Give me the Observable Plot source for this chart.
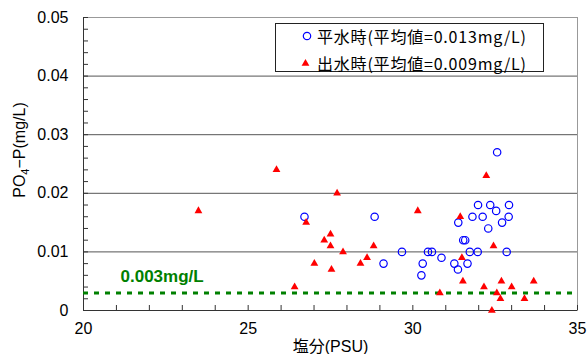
<!DOCTYPE html>
<html><head><meta charset="utf-8">
<script src="https://cdn.jsdelivr.net/npm/d3@7"></script>
<script src="https://cdn.jsdelivr.net/npm/@observablehq/plot@0.6"></script>
<style>
body{margin:0;background:#fff;}
#wrap{position:relative;width:587px;height:354px;overflow:hidden;font-family:"Liberation Sans",Arial,"Noto Sans CJK JP",sans-serif;}
#legend{position:absolute;left:275px;top:23px;width:267px;height:47px;border:1px solid #222;background:#fff;}
#legend .row{position:absolute;left:0;height:20px;width:100%;}
#legend svg{position:absolute;left:24px;top:3px;}
#legend span{position:absolute;left:41px;top:0;line-height:20px;font-size:16px;letter-spacing:0.8px;font-family:"Noto Sans CJK JP",sans-serif;white-space:nowrap;color:#000;}
</style></head>
<body><div id="wrap"></div>
<script>
// 平水時 (normal flow)
const normalSalinity = [26.71,28.84,29.11,29.67,30.26,30.30,30.46,30.58,30.87,31.26,31.37,31.38,31.53,31.59,31.66,31.73,31.81,31.97,31.98,32.12,32.29,32.35,32.53,32.56,32.71,32.85,32.91,32.92];
const normalPO4P     = [0.016,0.016,0.008,0.010,0.006,0.008,0.010,0.010,0.009,0.008,0.007,0.015,0.012,0.012,0.008,0.010,0.016,0.010,0.018,0.016,0.014,0.018,0.017,0.027,0.015,0.010,0.016,0.018];
// 出水時 (flood)
const floodSalinity = [23.49,25.86,26.41,26.76,27.01,27.31,27.50,27.50,27.53,27.70,27.88,28.41,28.61,28.81,30.15,30.82,31.44,31.49,31.52,32.16,32.23,32.40,32.45,32.55,32.66,32.69,33.00,33.39,33.67];
const floodPO4P     = [0.017,0.024,0.004,0.015,0.008,0.012,0.013,0.011,0.007,0.020,0.010,0.008,0.009,0.011,0.017,0.003,0.016,0.009,0.005,0.004,0.023,0.000,0.011,0.003,0.002,0.005,0.004,0.002,0.005];

const seriesNames = ["平水時(平均値=0.013mg/L)", "出水時(平均値=0.009mg/L)"];
const xTickLabels = [20,25,30,35];
const xMinorTicks = [20,21,22,23,24,25,26,27,28,29,30,31,32,33,34,35];
const yTickLabels = [0,0.01,0.02,0.03,0.04,0.05];
const yMinorTicks = [0,0.002,0.004,0.006,0.008,0.01,0.012,0.014,0.016,0.018,0.02,0.022,0.024,0.026,0.028,0.03,0.032,0.034,0.036,0.038,0.04,0.042,0.044,0.046,0.048,0.05];
const gridValues = [0.01,0.02,0.03,0.04];
const refValue = 0.003;
const refLabel = "0.003mg/L";
const xTitle = "塩分(PSU)";
const yTitleParts = ["PO", "4", "−P(mg/L)"];

const normal = normalSalinity.map((s,i)=>({s, p: normalPO4P[i]}));
const flood = floodSalinity.map((s,i)=>({s, p: floodPO4P[i]}));

const W=587, H=354, mL=83, mR=10, mT=17, mB=44;
const font = '"Liberation Sans",Arial,"Noto Sans CJK JP",sans-serif';

const plot = Plot.plot({
  width: W, height: H,
  marginLeft: mL, marginRight: mR, marginTop: mT, marginBottom: mB,
  style: {fontFamily: font, fontSize: "16px", color: "#000", background: "#fff", overflow: "visible"},
  x: {domain: [20, 35]},
  y: {domain: [0, 0.05]},
  marks: [
    Plot.ruleY(gridValues, {stroke: "#555", strokeWidth: 1}),
    Plot.frame({stroke: "#999"}),
    Plot.ruleX([20], {stroke: "#333"}),
    Plot.ruleY([0], {stroke: "#333"}),
    Plot.tickY(yMinorTicks, {y: d => d, stroke: "#333", insetRight: (W - mL - mR) - 5}),
    Plot.tickX(xMinorTicks, {x: d => d, stroke: "#333", insetTop: (H - mT - mB) - 5}),
    Plot.ruleY([refValue], {stroke: "#008000", strokeWidth: 3, strokeDasharray: "5,6"}),
    Plot.text([{v: refValue, t: refLabel}], {y: "v", text: "t", frameAnchor: "left", dx: 37, dy: -16, textAnchor: "start", fill: "#008000", fontWeight: "bold", fontSize: 17}),
    Plot.dot(normal, {x: "s", y: "p", r: 3.7, stroke: "#0000ff", strokeWidth: 1.2, fill: "none"}),
    Plot.dot(flood, {x: "s", y: "p", symbol: "triangle", r: 2.9, fill: "#ff0000", stroke: "none"}),
    Plot.axisX(xTickLabels, {tickSize: 0, tickPadding: 12, label: null, fontSize: 16}),
    Plot.axisY(yTickLabels, {tickSize: 0, tickPadding: 15, label: null, fontSize: 16, tickFormat: d => d === 0 ? "0" : d.toFixed(2)}),
    Plot.text([xTitle], {frameAnchor: "bottom", dy: 41, lineAnchor: "bottom", fontSize: 16})
  ]
});

const wrap = document.getElementById("wrap");
wrap.appendChild(plot);

// y-axis title with subscript
const svg = d3.select(plot);
const t = svg.append("text")
  .attr("transform", "translate(25,150) rotate(-90)")
  .attr("text-anchor", "middle")
  .attr("font-size", 16)
  .attr("font-family", font)
  .attr("fill", "#000");
t.append("tspan").text(yTitleParts[0]);
t.append("tspan").attr("font-size", 11).attr("dy", 4).text(yTitleParts[1]);
t.append("tspan").attr("dy", -4).text(yTitleParts[2]);

// legend
const legend = document.createElement("div");
legend.id = "legend";
const rowTops = [2, 29];
seriesNames.forEach((name, i) => {
  const row = document.createElement("div");
  row.className = "row";
  row.style.top = rowTops[i] + "px";
  const marker = i === 0
    ? '<svg width="14" height="14"><circle cx="7" cy="7" r="3.7" fill="none" stroke="#0000ff" stroke-width="1.2"/></svg>'
    : '<svg width="14" height="14"><path d="' + d3.symbol(d3.symbolTriangle, Math.PI * 2.9 * 2.9)() + '" transform="translate(5.5,7.5)" fill="#ff0000"/></svg>';
  row.innerHTML = marker + '<span>' + name + '</span>';
  legend.appendChild(row);
});
wrap.appendChild(legend);
</script>
</body></html>
